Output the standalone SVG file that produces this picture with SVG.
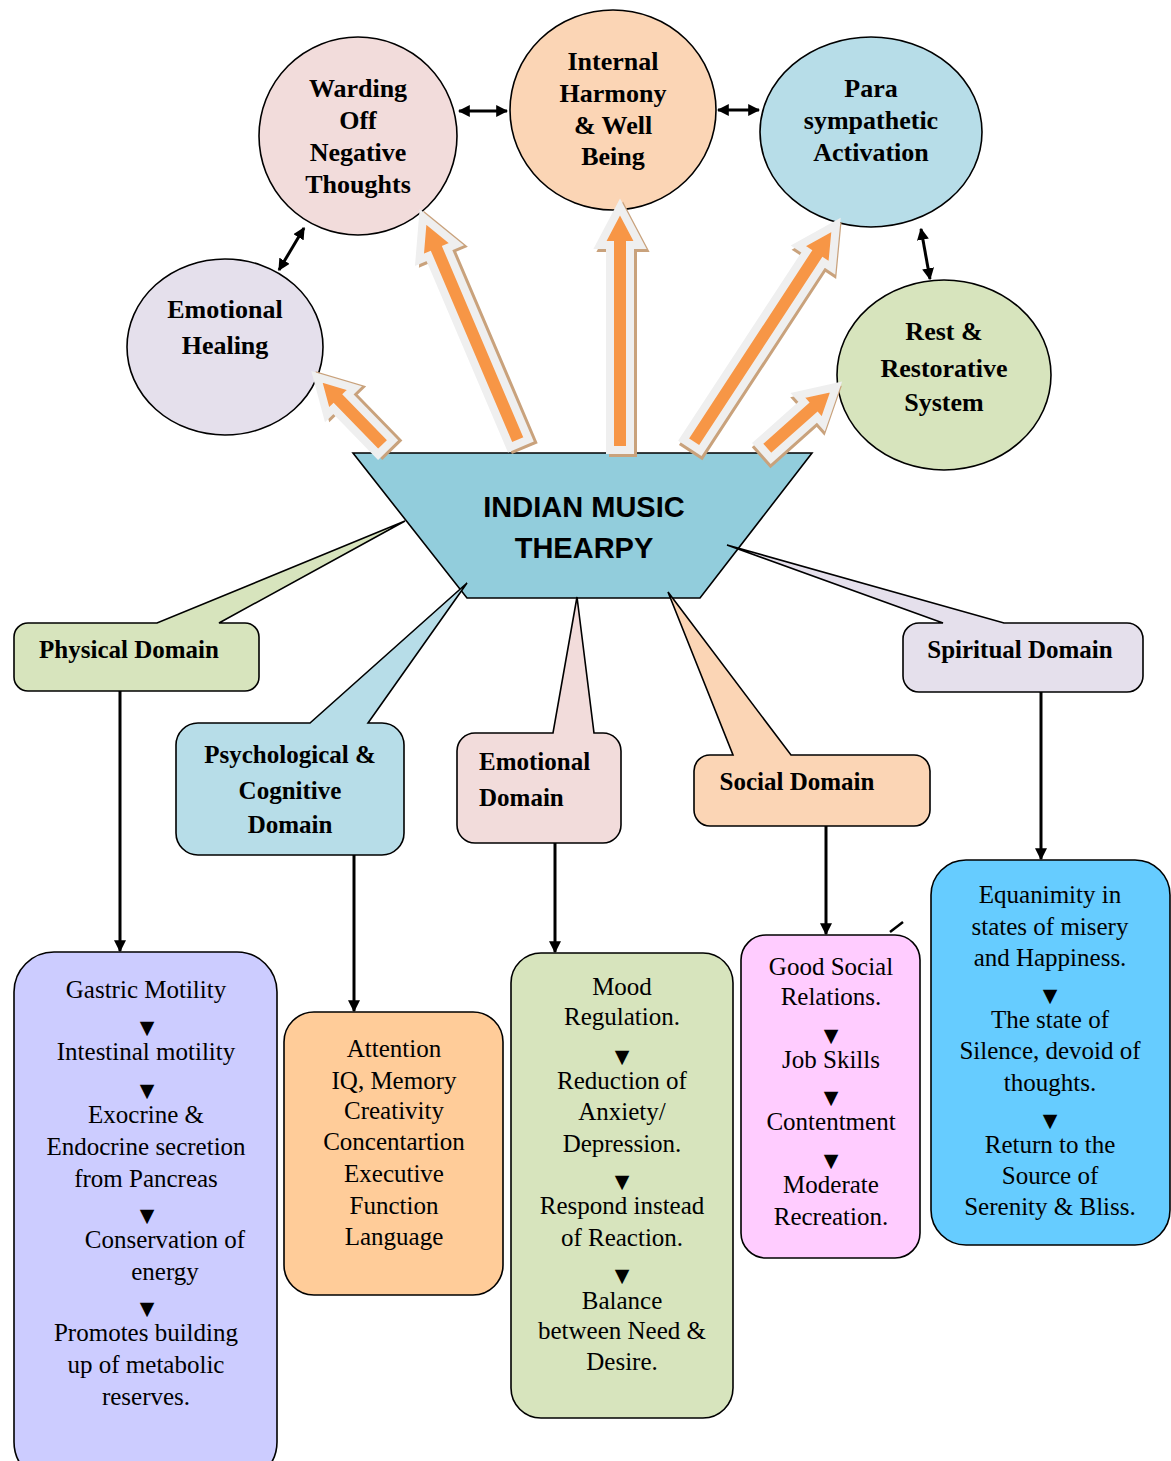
<svg xmlns="http://www.w3.org/2000/svg" width="1171" height="1461" viewBox="0 0 1171 1461">
<defs>
<style>
.nd{stroke:#000;stroke-width:1.6}
.t{font-family:"Liberation Serif","Times New Roman",serif;font-size:25px;fill:#000;text-anchor:middle}
.b{font-family:"Liberation Serif","Times New Roman",serif;font-size:26px;font-weight:bold;fill:#000;text-anchor:middle}
.d{font-family:"Liberation Serif","Times New Roman",serif;font-size:25px;font-weight:bold;fill:#000}
.c{font-family:"Liberation Sans",Arial,sans-serif;font-size:29px;font-weight:bold;fill:#000;text-anchor:middle}
.tri{font-family:"DejaVu Sans",sans-serif;font-size:19px;fill:#000;text-anchor:middle}
.con{stroke:#000;stroke-width:3;fill:none}
.dbl{stroke:#000;stroke-width:3;fill:none;marker-start:url(#ah);marker-end:url(#ah)}
.down{stroke:#000;stroke-width:3;fill:none;marker-end:url(#ah)}
.oa{fill:#f79646;stroke:#efefef;stroke-width:8;stroke-linejoin:miter}
.sh{fill:#c9a27c;stroke:#c9a27c;stroke-width:8}
</style>
<marker id="ah" viewBox="0 0 10 10" refX="9" refY="5" markerWidth="4" markerHeight="4" orient="auto-start-reverse" markerUnits="strokeWidth">
<path d="M0,0 L10,5 L0,10 Z" fill="#000"/>
</marker>
</defs>
<rect width="1171" height="1461" fill="#fff"/>

<!-- Center trapezoid -->
<g id="center">
<polygon class="nd" points="353,453 812,453 700,598 467,598" fill="#92cddc"/>
<text class="c" x="584" y="517">INDIAN MUSIC</text>
<text class="c" x="584" y="558">THEARPY</text>
</g>

<!-- Circles -->
<g id="warding">
<ellipse class="nd" cx="358" cy="136" rx="99" ry="99" fill="#f2dcdb"/>
<text class="b" x="358" y="97">Warding</text>
<text class="b" x="358" y="129">Off</text>
<text class="b" x="358" y="161">Negative</text>
<text class="b" x="358" y="193">Thoughts</text>
</g>
<g id="harmony">
<ellipse class="nd" cx="613" cy="110" rx="103" ry="100" fill="#fbd5b5"/>
<text class="b" x="613" y="70">Internal</text>
<text class="b" x="613" y="102">Harmony</text>
<text class="b" x="613" y="134">&amp; Well</text>
<text class="b" x="613" y="165">Being</text>
</g>
<g id="para">
<ellipse class="nd" cx="871" cy="132" rx="111" ry="95" fill="#b7dde8"/>
<text class="b" x="871" y="97">Para</text>
<text class="b" x="871" y="129">sympathetic</text>
<text class="b" x="871" y="161">Activation</text>
</g>
<g id="healing">
<ellipse class="nd" cx="225" cy="347" rx="98" ry="88" fill="#e5e0ec"/>
<text class="b" x="225" y="318">Emotional</text>
<text class="b" x="225" y="354">Healing</text>
</g>
<g id="rest">
<ellipse class="nd" cx="944" cy="375" rx="107" ry="95" fill="#d7e4bd"/>
<text class="b" x="944" y="340">Rest &amp;</text>
<text class="b" x="944" y="377">Restorative</text>
<text class="b" x="944" y="411">System</text>
</g>

<!-- Domain callouts -->
<g id="physical">
<path class="nd" fill="#d7e4bd" d="M28,623 H157 L405,521 L219,623 H245 A14,14 0 0 1 259,637 V677 A14,14 0 0 1 245,691 H28 A14,14 0 0 1 14,677 V637 A14,14 0 0 1 28,623 Z"/>
<text class="d" x="129" y="658" text-anchor="middle">Physical Domain</text>
</g>
<g id="psych">
<path class="nd" fill="#b7dde8" d="M198,723 H310 L467,583 L368,723 H382 A22,22 0 0 1 404,745 V833 A22,22 0 0 1 382,855 H198 A22,22 0 0 1 176,833 V745 A22,22 0 0 1 198,723 Z"/>
<text class="d" x="290" y="763" text-anchor="middle">Psychological &amp;</text>
<text class="d" x="290" y="799" text-anchor="middle">Cognitive</text>
<text class="d" x="290" y="833" text-anchor="middle">Domain</text>
</g>
<g id="emotional">
<path class="nd" fill="#f2dcdb" d="M475,733 H553 L577,597 L594,733 H603 A18,18 0 0 1 621,751 V825 A18,18 0 0 1 603,843 H475 A18,18 0 0 1 457,825 V751 A18,18 0 0 1 475,733 Z"/>
<text class="d" x="479" y="770">Emotional</text>
<text class="d" x="479" y="806">Domain</text>
</g>
<g id="social">
<path class="nd" fill="#fbd5b5" d="M710,755 H733 L668,592 L791,755 H914 A16,16 0 0 1 930,771 V810 A16,16 0 0 1 914,826 H710 A16,16 0 0 1 694,810 V771 A16,16 0 0 1 710,755 Z"/>
<text class="d" x="797" y="790" text-anchor="middle">Social Domain</text>
</g>
<g id="spiritual">
<path class="nd" fill="#e5e0ec" d="M919,623 H943 L727,545 L1004,623 H1127 A16,16 0 0 1 1143,639 V676 A16,16 0 0 1 1127,692 H919 A16,16 0 0 1 903,676 V639 A16,16 0 0 1 919,623 Z"/>
<text class="d" x="1020" y="658" text-anchor="middle">Spiritual Domain</text>
</g>

<!-- Connectors -->
<g id="connectors">
<line class="dbl" x1="459" y1="111" x2="507" y2="111"/>
<line class="dbl" x1="718" y1="110" x2="759" y2="110"/>
<line class="dbl" x1="304" y1="228" x2="279" y2="270"/>
<line class="dbl" x1="921" y1="229" x2="930" y2="279"/>
<line class="down" x1="120" y1="691" x2="120" y2="951"/>
<line class="down" x1="354" y1="855" x2="354" y2="1011"/>
<line class="down" x1="555" y1="843" x2="555" y2="952"/>
<line class="down" x1="826" y1="826" x2="826" y2="934"/>
<line class="down" x1="1041" y1="692" x2="1041" y2="859"/>
<line x1="890" y1="932" x2="903" y2="922" stroke="#000" stroke-width="2.5"/>
<!-- orange block arrows: local tip at 0,0 pointing up -->
<g transform="translate(317,377) rotate(-44.2)">
<polygon class="sh" transform="translate(3,3)" points="0,0 19,34 10,34 10,98 -10,98 -10,34 -19,34"/>
<polygon class="oa" points="0,0 19,34 10,34 10,98 -10,98 -10,34 -19,34"/>
</g>
<g transform="translate(423,217) rotate(-23.05)">
<polygon class="sh" transform="translate(3,3)" points="0,0 20,38 10,38 10,246 -10,246 -10,38 -20,38"/>
<polygon class="oa" points="0,0 20,38 10,38 10,246 -10,246 -10,38 -20,38"/>
</g>
<g transform="translate(620,207)">
<polygon class="sh" transform="translate(3,3)" points="0,0 20,38 10,38 10,243 -10,243 -10,38 -20,38"/>
<polygon class="oa" points="0,0 20,38 10,38 10,243 -10,243 -10,38 -20,38"/>
</g>
<g transform="translate(836,225) rotate(33.2)">
<polygon class="sh" transform="translate(3,3)" points="0,0 20,38 10,38 10,263 -10,263 -10,38 -20,38"/>
<polygon class="oa" points="0,0 20,38 10,38 10,263 -10,263 -10,38 -20,38"/>
</g>
<g transform="translate(836,387) rotate(48.3)">
<polygon class="sh" transform="translate(3,3)" points="0,0 19,34 10,34 10,96 -10,96 -10,34 -19,34"/>
<polygon class="oa" points="0,0 19,34 10,34 10,96 -10,96 -10,34 -19,34"/>
</g>
</g>

<!-- Bottom lists -->
<g id="physical-list">
<rect class="nd" x="14" y="952" width="263" height="530" rx="40" fill="#ccccff"/>
<text class="t" x="146" y="998">Gastric Motility</text>
<text class="tri" x="147" y="1034">▼</text>
<text class="t" x="146" y="1060">Intestinal motility</text>
<text class="tri" x="147" y="1097">▼</text>
<text class="t" x="146" y="1123">Exocrine &amp;</text>
<text class="t" x="146" y="1155">Endocrine secretion</text>
<text class="t" x="146" y="1187">from Pancreas</text>
<text class="tri" x="147" y="1222">▼</text>
<text class="t" x="165" y="1248">Conservation of</text>
<text class="t" x="165" y="1280">energy</text>
<text class="tri" x="147" y="1315">▼</text>
<text class="t" x="146" y="1341">Promotes building</text>
<text class="t" x="146" y="1373">up of metabolic</text>
<text class="t" x="146" y="1405">reserves.</text>
</g>
<g id="psych-list">
<rect class="nd" x="284" y="1012" width="219" height="283" rx="30" fill="#ffcc99"/>
<text class="t" x="394" y="1057">Attention</text>
<text class="t" x="394" y="1089">IQ, Memory</text>
<text class="t" x="394" y="1119">Creativity</text>
<text class="t" x="394" y="1150">Concentartion</text>
<text class="t" x="394" y="1182">Executive</text>
<text class="t" x="394" y="1214">Function</text>
<text class="t" x="394" y="1245">Language</text>
</g>
<g id="emotional-list">
<rect class="nd" x="511" y="953" width="222" height="465" rx="30" fill="#d7e4bd"/>
<text class="t" x="622" y="995">Mood</text>
<text class="t" x="622" y="1025">Regulation.</text>
<text class="tri" x="622" y="1063">▼</text>
<text class="t" x="622" y="1089">Reduction of</text>
<text class="t" x="622" y="1120">Anxiety/</text>
<text class="t" x="622" y="1152">Depression.</text>
<text class="tri" x="622" y="1188">▼</text>
<text class="t" x="622" y="1214">Respond instead</text>
<text class="t" x="622" y="1246">of Reaction.</text>
<text class="tri" x="622" y="1282">▼</text>
<text class="t" x="622" y="1309">Balance</text>
<text class="t" x="622" y="1339">between Need &amp;</text>
<text class="t" x="622" y="1370">Desire.</text>
</g>
<g id="social-list">
<rect class="nd" x="741" y="935" width="179" height="323" rx="25" fill="#ffccff"/>
<text class="t" x="831" y="975">Good Social</text>
<text class="t" x="831" y="1005">Relations.</text>
<text class="tri" x="831" y="1042">▼</text>
<text class="t" x="831" y="1068">Job Skills</text>
<text class="tri" x="831" y="1104">▼</text>
<text class="t" x="831" y="1130">Contentment</text>
<text class="tri" x="831" y="1167">▼</text>
<text class="t" x="831" y="1193">Moderate</text>
<text class="t" x="831" y="1225">Recreation.</text>
</g>
<g id="spiritual-list">
<rect class="nd" x="931" y="860" width="239" height="385" rx="35" fill="#66ccff"/>
<text class="t" x="1050" y="903">Equanimity in</text>
<text class="t" x="1050" y="935">states of misery</text>
<text class="t" x="1050" y="966">and Happiness.</text>
<text class="tri" x="1050" y="1002">▼</text>
<text class="t" x="1050" y="1028">The state of</text>
<text class="t" x="1050" y="1059">Silence, devoid of</text>
<text class="t" x="1050" y="1091">thoughts.</text>
<text class="tri" x="1050" y="1127">▼</text>
<text class="t" x="1050" y="1153">Return to the</text>
<text class="t" x="1050" y="1184">Source of</text>
<text class="t" x="1050" y="1215">Serenity &amp; Bliss.</text>
</g>
</svg>
